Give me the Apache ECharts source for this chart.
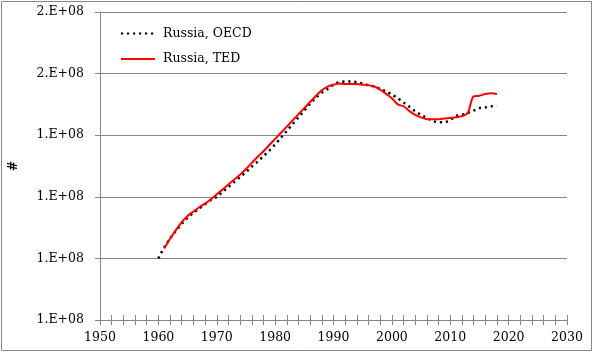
<!DOCTYPE html>
<html><head><meta charset="utf-8">
<script src="https://cdn.jsdelivr.net/npm/echarts@6/dist/echarts.min.js"></script>
<style>html,body{margin:0;padding:0;background:#fff}#c{width:594px;height:353px}</style>
</head><body><div id="c"></div>
<script>
// Population of Russia, millions
const oecdYears = [1960,1961,1962,1963,1964,1965,1966,1967,1968,1969,1970,1971,1972,1973,1974,1975,1976,1977,1978,1979,1980,1981,1982,1983,1984,1985,1986,1987,1988,1989,1990,1991,1992,1993,1994,1995,1996,1997,1998,1999,2000,2001,2002,2003,2004,2005,2006,2007,2008,2009,2010,2011,2012,2013,2014,2015,2016,2017,2018];
const oecdValues = [120.0,121.8,123.2,124.5,125.6,126.6,127.4,128.1,128.8,129.5,130.0,130.8,131.6,132.4,133.2,134.0,134.9,135.7,136.6,137.5,138.5,139.6,140.7,141.8,142.9,144.0,145.1,146.1,146.9,147.5,148.2,148.6,148.7,148.7,148.6,148.4,148.1,147.9,147.5,147.1,146.6,146.0,145.3,144.6,143.9,143.3,142.8,142.3,142.1,142.1,142.5,143.1,143.3,143.6,144.0,144.4,144.5,144.7,144.7];
const tedYears = [1961,1962,1963,1964,1965,1966,1967,1968,1969,1970,1971,1972,1973,1974,1975,1976,1977,1978,1979,1980,1981,1982,1983,1984,1985,1986,1987,1988,1989,1990,1991,1992,1993,1994,1995,1996,1997,1998,1999,2000,2001,2002,2003,2004,2005,2006,2007,2008,2009,2010,2011,2012,2013,2014,2015,2016,2017,2018];
const tedValues = [121.6,123.2,124.6,125.9,126.9,127.6,128.3,128.9,129.6,130.4,131.2,132.0,132.8,133.6,134.5,135.5,136.5,137.4,138.4,139.4,140.4,141.4,142.4,143.4,144.4,145.4,146.4,147.3,147.9,148.2,148.4,148.3,148.3,148.3,148.2,148.1,147.9,147.4,146.7,146.0,145.0,144.7,143.9,143.3,142.9,142.6,142.6,142.6,142.7,142.8,142.9,143.1,143.6,146.3,146.4,146.7,146.8,146.7];
const seriesNames = ['Russia, OECD', 'Russia, TED'];
const yAxisTitle = '#';
const yMin = 110, yMax = 160, yStep = 10;
const xMin = 1950, xMax = 2030, xStep = 2, xLabelStep = 10;

const FONT = 'DejaVu Serif';
const GRAY = '#868686';
function sci(v){
  const s = (v*1e6).toExponential(0); // e.g. "1e+8"
  const m = s.split('e');
  let exp = parseInt(m[1],10);
  const sign = exp < 0 ? '-' : '+';
  exp = Math.abs(exp);
  return m[0] + '.E' + sign + (exp<10?'0':'') + exp;
}
const chart = echarts.init(document.getElementById('c'), null, {renderer:'canvas'});
chart.setOption({
  animation:false,
  backgroundColor:'#fff',
  graphic:[{type:'rect', shape:{x:1.5,y:1.5,width:590,height:349}, style:{fill:'none', stroke:GRAY, lineWidth:1}, silent:true}],
  grid:{left:98, right:27, top:12, bottom:33},
  legend:{
    orient:'vertical', left:115, top:22, itemWidth:34, itemHeight:14, itemGap:12.5,
    itemStyle:{opacity:0},
    textStyle:{fontFamily:FONT, fontSize:12.5, color:'#000', padding:[0,0,0,3]},
    data:seriesNames
  },
  xAxis:[{
    type:'value', min:xMin, max:xMax, interval:xStep, position:'bottom',
    axisLine:{show:true, lineStyle:{color:GRAY, width:1}},
    axisTick:{show:true, length:5, lineStyle:{color:GRAY}},
    splitLine:{show:false},
    axisLabel:{fontFamily:FONT, fontSize:12.5, color:'#000', margin:11,
      formatter:v => (v % xLabelStep === 0 ? String(v) : '')}
  },{
    type:'value', min:xMin, max:xMax, interval:xStep, position:'bottom', offset:0,
    axisLine:{show:false},
    axisTick:{show:true, inside:true, length:5, lineStyle:{color:GRAY}},
    splitLine:{show:false}, axisLabel:{show:false}
  }],
  yAxis:{
    type:'value', min:yMin, max:yMax, interval:yStep,
    name:yAxisTitle, nameLocation:'middle', nameGap:80, nameRotate:90,
    nameTextStyle:{fontFamily:FONT, fontSize:12, fontWeight:'bold', color:'#000'},
    axisLine:{show:true, lineStyle:{color:GRAY, width:1}},
    axisTick:{show:true, length:5, lineStyle:{color:GRAY}},
    splitLine:{show:true, lineStyle:{color:GRAY, width:1}},
    axisLabel:{fontFamily:FONT, fontSize:12.5, color:'#000', margin:16, formatter:sci}
  },
  series:[{
    name:seriesNames[0], type:'line', xAxisIndex:0, symbol:'none', smooth:0.3,
    data:oecdYears.map((y,i)=>[y, oecdValues[i]]),
    lineStyle:{color:'#000', width:2.5, type:[2.2,3.8], cap:'butt'},
    itemStyle:{color:'#000'}, z:2
  },{
    name:seriesNames[1], type:'line', xAxisIndex:0, symbol:'none', smooth:0.3,
    data:tedYears.map((y,i)=>[y, tedValues[i]]),
    lineStyle:{color:'#ff0000', width:2},
    itemStyle:{color:'#ff0000'}, z:3
  }]
});
</script></body></html>
